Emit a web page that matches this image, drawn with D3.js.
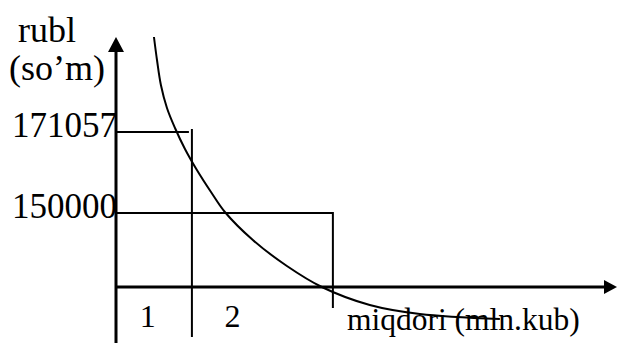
<!DOCTYPE html>
<html>
<head>
<meta charset="utf-8">
<script src="https://cdn.jsdelivr.net/npm/d3@7.9.0/dist/d3.min.js"></script>
<style>
  html, body { margin: 0; padding: 0; background: #fff; }
  svg { display: block; }
  text { font-family: "Liberation Serif", "Times New Roman", serif; fill: #000; }
</style>
</head>
<body>
<svg id="chart" width="617" height="343"></svg>
<script>
// prices marked on the vertical axis (so'm)
const priceLevels = [171057, 150000];
// quantity where each price rectangle ends (mln.kub)
const qtyLevels = [3.5, 10];
// zone labels under the x axis
const zoneLabels = ['1', '2'];
const zoneQty = [1.1, 5.0];

// demand curve
const curveQty = [1.75, 1.89, 2.07, 2.35, 2.72, 3.18, 3.73, 4.38, 5.02, 6.31, 7.88, 9.49, 11.70, 14.01, 17.70];
const curvePrice = [195750, 189770, 183280, 177300, 172100, 166640, 161180, 155460, 150260, 142980, 136220, 130760, 126080, 123740, 122440];

const yTitle = ['rubl', '(so\u2019m)'];
const xTitle = 'miqdori (mln.kub)';

const svg = d3.select('#chart');

let x = d3.scaleLinear().domain([0, 23.1]).range([116, 617]);
let y = d3.scaleLinear().domain([130760, 195750]).range([287, 37]);

// curve
let curve = d3.line()
    .x(d => x(d[0]))
    .y(d => y(d[1]))
    .curve(d3.curveCatmullRom);

svg.append('path')
    .attr('d', curve(d3.zip(curveQty, curvePrice)))
    .attr('fill', 'none')
    .attr('stroke', '#000')
    .attr('stroke-width', 2);

// price rectangles
priceLevels.forEach((p, i) => {
    let q = qtyLevels[i];
    svg.append('line')
        .attr('x1', x(0)).attr('x2', x(q) - (i === 0 ? 3 : 0))
        .attr('y1', y(p)).attr('y2', y(p))
        .attr('stroke', '#000').attr('stroke-width', 2);
    svg.append('line')
        .attr('x1', x(q)).attr('x2', x(q))
        .attr('y1', y(p) - (i === 0 ? 3 : 1))
        .attr('y2', i === 0 ? 337 : 308)
        .attr('stroke', '#000').attr('stroke-width', 2);
    svg.append('text')
        .attr('x', 12)
        .attr('y', y(p) + 5)
        .attr('font-size', 35)
        .text(p);
});

// axes
svg.append('line')
    .attr('x1', x(0)).attr('x2', x(0))
    .attr('y1', 343).attr('y2', y.range()[1] + 12)
    .attr('stroke', '#000').attr('stroke-width', 3);
svg.append('path')
    .attr('d', d3.line()([[x(0) - 8, y.range()[1] + 15], [x(0), y.range()[1]], [x(0) + 8, y.range()[1] + 15]]))
    .attr('fill', '#000');

svg.append('line')
    .attr('x1', x(0)).attr('x2', x.range()[1] - 10)
    .attr('y1', y(y.domain()[0])).attr('y2', y(y.domain()[0]))
    .attr('stroke', '#000').attr('stroke-width', 3);
svg.append('path')
    .attr('d', d3.line()([[x.range()[1] - 13, y.range()[0] - 7], [x.range()[1], y.range()[0]], [x.range()[1] - 13, y.range()[0] + 7]]))
    .attr('fill', '#000');

// titles
svg.append('text').attr('x', 18).attr('y', 42).attr('font-size', 36).text(yTitle[0]);
svg.append('text').attr('x', 9).attr('y', 80).attr('font-size', 36).text(yTitle[1]);

zoneLabels.forEach((t, i) => {
    svg.append('text')
        .attr('x', x(zoneQty[i]))
        .attr('y', 327)
        .attr('font-size', 32)
        .text(t);
});

svg.append('text')
    .attr('x', 347)
    .attr('y', 330)
    .attr('font-size', 31.5)
    .text(xTitle);
</script>
</body>
</html>
